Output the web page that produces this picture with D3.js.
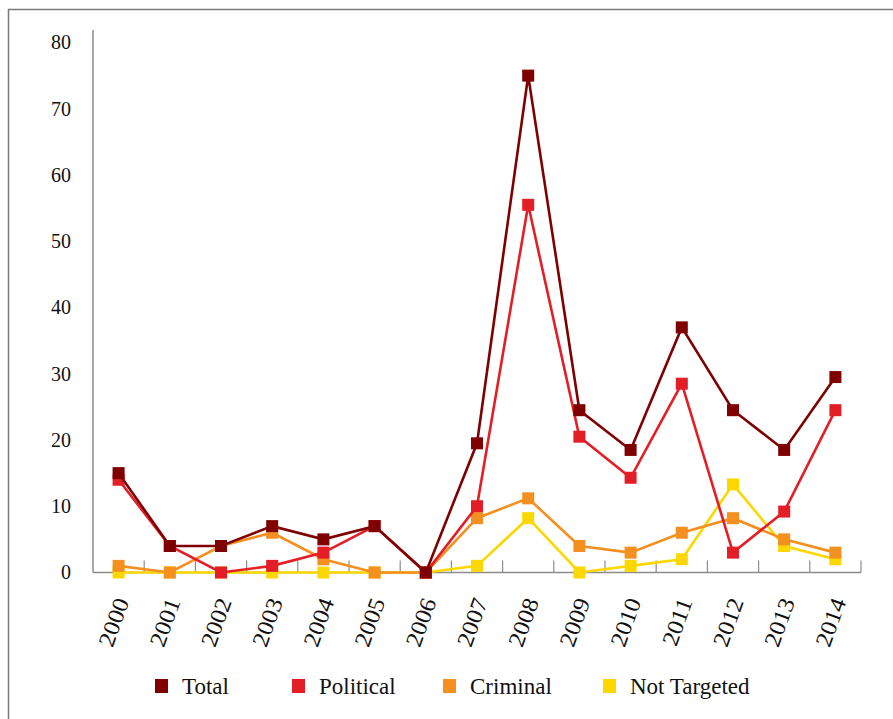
<!DOCTYPE html>
<html><head><meta charset="utf-8">
<script src="https://cdn.jsdelivr.net/npm/d3@7"></script>
<style>
html,body{margin:0;padding:0;background:#fff;}
svg{display:block;font-family:"Liberation Serif","Times New Roman",serif;}
</style></head>
<body>
<svg id="chart" width="893" height="719"></svg>
<script>
const years = ["2000","2001","2002","2003","2004","2005","2006","2007","2008","2009","2010","2011","2012","2013","2014"];
const total = [15, 4, 4, 7, 5, 7, 0, 19.5, 75, 24.5, 18.5, 37, 24.5, 18.5, 29.5];
const political = [14, 4, 0, 1, 3, 7, 0, 10, 55.5, 20.5, 14.3, 28.5, 3, 9.2, 24.5];
const criminal = [1, 0, 4, 6, 2, 0, 0, 8.2, 11.2, 4, 3, 6, 8.2, 5, 3];
const notTargeted = [0, 0, 0, 0, 0, 0, 0, 1, 8.2, 0, 1, 2, 13.3, 4, 2];
const seriesNames = ["Total", "Political", "Criminal", "Not Targeted"];
const seriesColors = ["#7f0000", "#e41e26", "#f39020", "#fcd800"];
const yTicks = [0, 10, 20, 30, 40, 50, 60, 70, 80];

(function () {
const svg = d3.select("#chart");
svg.append("path").attr("d", "M8.5,719 L8.5,9.5 L893,9.5")
  .attr("fill", "none").attr("stroke", "#7a7a7a").attr("stroke-width", 1.5);

const mLeft = 93, mRight = 861, mTop = 42.5, mBottom = 572.5;
const x = d3.scaleBand().domain(years).range([mLeft, mRight]).padding(0);
const y = d3.scaleLinear().domain([0, 80]).range([mBottom, mTop]);

const yAxis = svg.append("g").attr("transform", `translate(${mLeft},0)`)
  .call(d3.axisLeft(y).tickValues(yTicks).tickSize(0).tickPadding(22).tickFormat(d3.format("d")));
yAxis.select(".domain").attr("d", `M0,30V${mBottom}`).attr("stroke", "#8c8c8c").attr("stroke-width", 1.5);
yAxis.selectAll("text").attr("font-size", 20).attr("fill", "#111").attr("font-family", "Liberation Serif");

svg.append("line").attr("x1", mLeft).attr("x2", mRight).attr("y1", mBottom).attr("y2", mBottom)
  .attr("stroke", "#8c8c8c").attr("stroke-width", 1.5);
svg.append("g").selectAll("line").data(years).join("line")
  .attr("x1", d => x(d) + x.bandwidth()).attr("x2", d => x(d) + x.bandwidth())
  .attr("y1", mBottom).attr("y2", mBottom - 12)
  .attr("stroke", "#8c8c8c").attr("stroke-width", 1.2);
svg.append("g").selectAll("text").data(years).join("text")
  .attr("transform", d => `translate(${x(d) + x.bandwidth() / 2 + 11},${mBottom + 29}) rotate(-70) scale(1.08,1)`)
  .attr("text-anchor", "end").attr("font-size", 23).attr("fill", "#111")
  .text(d => d);

const data = [total, political, criminal, notTargeted];
const order = [3, 2, 1, 0];
const line = d3.line().x((d, i) => x(years[i]) + x.bandwidth() / 2).y(d => y(d));
order.forEach(k => {
  const g = svg.append("g");
  g.append("path").datum(data[k]).attr("d", line)
    .attr("fill", "none").attr("stroke", seriesColors[k]).attr("stroke-width", 2.6)
    .attr("stroke-linejoin", "miter");
  g.selectAll("rect").data(data[k]).join("rect")
    .attr("x", (d, i) => x(years[i]) + x.bandwidth() / 2 - 6)
    .attr("y", d => y(d) - 6)
    .attr("width", 12).attr("height", 12)
    .attr("fill", seriesColors[k]);
});

const legendX = [155, 292, 443, 603];
const lg = svg.append("g");
seriesNames.forEach((n, i) => {
  lg.append("rect").attr("x", legendX[i]).attr("y", 679).attr("width", 13).attr("height", 14)
    .attr("fill", seriesColors[i]);
  lg.append("text").attr("x", legendX[i] + 27).attr("y", 694).attr("font-size", 23)
    .attr("fill", "#111").text(n);
});
})();
</script>
</body></html>
